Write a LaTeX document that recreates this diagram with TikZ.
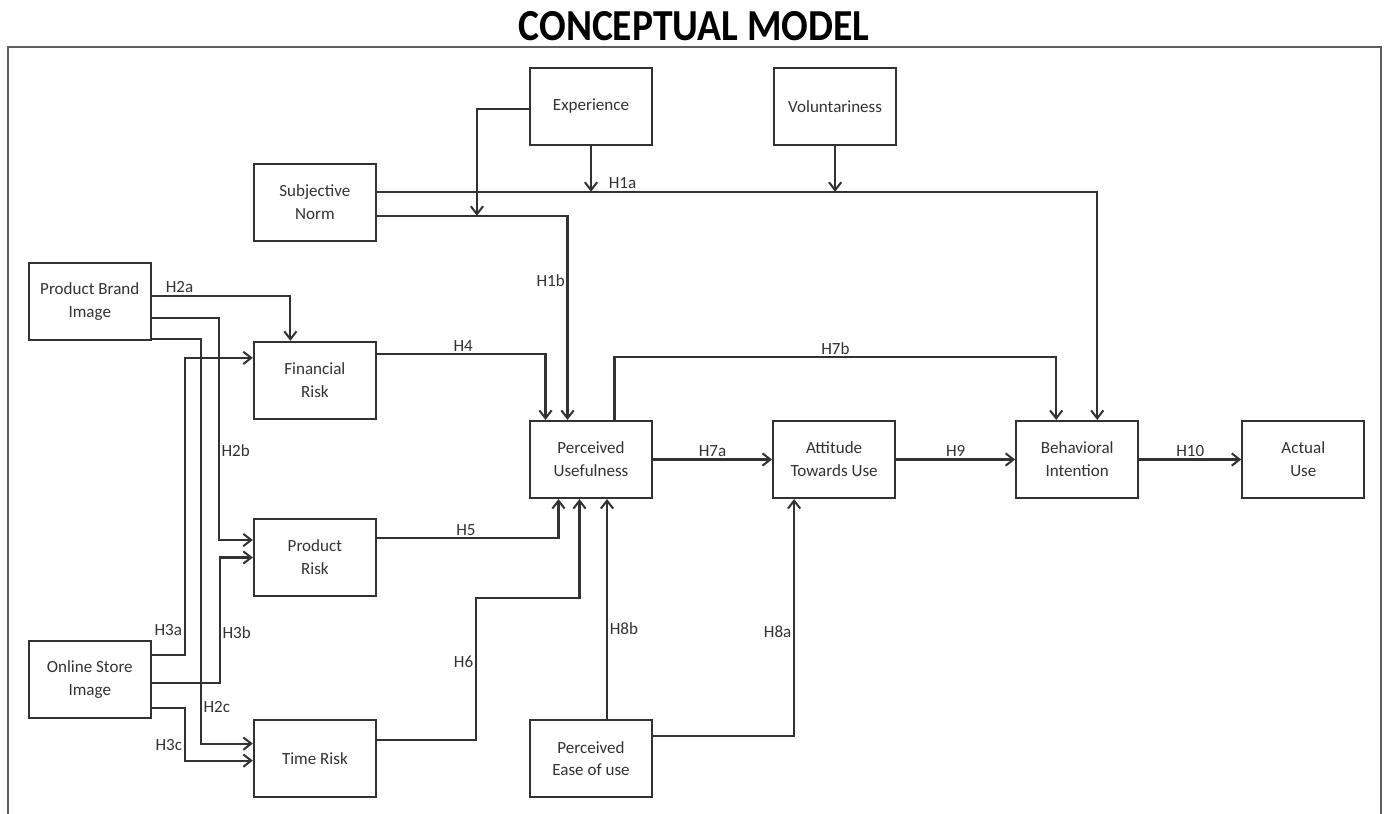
\documentclass[tikz,border=0pt]{standalone}
\usepackage{fontspec}
\setmainfont{Carlito}
\usepackage{tikz}
\usetikzlibrary{positioning}
\usetikzlibrary{arrows.meta}
\usetikzlibrary{calc}
\definecolor{linegray}{RGB}{50,50,50}
\definecolor{framegray}{RGB}{95,95,95}
\tikzset{box node/.style={rectangle,draw=linegray,line width=1.2pt,minimum width=2.44cm,minimum height=1.54cm,inner sep=0pt,align=center,font=\fontsize{9.7}{13}\selectfont},
hyp/.style={inner sep=1pt,font=\fontsize{9.7}{13}\selectfont},}

\begin{document}
\begin{tikzpicture}[->, >={Straight Barb[length=4.5pt,width=7pt]}, color=linegray, line width=1.15pt, node distance=1cm]
		\useasboundingbox (0,0) rectangle (27.76,-16.28);
		\draw[-, line width=1.4pt, framegray] (0.16,-16.4) |- (27.62,-0.94) -- (27.62,-16.4);
		\node[font=\bfseries\fontsize{22.5}{27}\selectfont, text=black] (title) at (13.88,-0.52) {\scalebox{1}[1.12]{CONCEPTUAL MODEL}};

		\node[box node] (pu) at (11.82,-9.19) {Perceived\\Usefulness};
	    \node[box node] (atu) [right = 2.38cm of pu] {Attitude\\Towards Use};
	    \node[box node] (bi) [right = 2.38cm of atu] {Behavioral\\Intention};
	    \node[box node] (au) [right = 2.04cm of bi] {Actual\\Use};
	    \node[box node] (peu) [below = 4.40cm of pu] {Perceived\\Ease of use};
	    \node[box node] (exp) [above = 5.48cm of pu] {Experience};
	    \node[box node] (vol) [right = 2.40cm of exp] {Voluntariness};
	    \node[box node] (fr) [above left = 0cm and 3.04cm of pu] {Financial\\Risk};
	    \node[box node] (pr) [below = 1.96cm of fr] {Product\\Risk};
	    \node[box node] (tr) [below = 2.44cm of pr] {Time Risk};
	    \node[box node] (sn) [above = 1.98cm of fr] {Subjective\\Norm};
	    \node[box node] (pbi) [above left = 0cm and 2.02cm of fr] {Product Brand\\Image};
	    \node[box node] (osi) [above left = 0cm and 2.02cm of tr] {Online Store\\Image};

	    % subjective norm and its moderators
	    \coordinate (snA) at ([yshift=0.21cm]sn.east);
	    \coordinate (snB) at ([yshift=-0.27cm]sn.east);
	    \coordinate (mx) at ([xshift=2.0cm]snB);
	    \draw ([yshift=-0.05cm]exp.west) -| (mx);
	    \draw (exp.south) -- (exp.south |- snA) node[hyp, above right, xshift=0.3cm] {H1a};
	    \draw (vol.south) -- (vol.south |- snA);
	    \draw (snA) -| ([xshift=0.40cm]bi.north);
	    \draw (snB) -| node[hyp, pos=0.66, left] {H1b} ([xshift=-0.47cm]pu.north);

	    % image -> risk
	    \draw ([yshift=0.11cm]pbi.east) -| node[hyp, pos=0.1, above] {H2a} ([xshift=-0.49cm]fr.north);
	    \draw ([yshift=-0.33cm]pbi.east) -- ++(1.34cm,0) |- node[hyp, pos=0.3, right] {H2b} ([yshift=0.35cm]pr.west);
	    \draw ([yshift=-0.75cm]pbi.east) -- ++(0.98cm,0) |- node[hyp, pos=0.455, right] {H2c} ([yshift=0.30cm]tr.west);
	    \draw ([yshift=0.49cm]osi.east) -- node[hyp, above=0.34cm] {H3a} ++(0.66cm,0) |- ([yshift=0.45cm]fr.west);
	    \draw ([yshift=-0.07cm]osi.east) -- ++(1.36cm,0) |- node[hyp, pos=0.2, right] {H3b} (pr.west);
	    \draw ([yshift=-0.57cm]osi.east) -- ++(0.66cm,0) |- node[hyp, pos=0.35, left] {H3c} ([yshift=-0.04cm]tr.west);

	    % risk -> usefulness
	    \draw ([yshift=0.53cm]fr.east) -| node[hyp, pos=0.256, above] {H4} ([xshift=-0.91cm]pu.north);
	    \draw ([yshift=0.39cm]pr.east) -| node[hyp, pos=0.245, above] {H5} ([xshift=-0.65cm]pu.south);
	    \draw ([yshift=0.38cm]tr.east) -- ++(1.98cm,0) -- node[hyp, pos=0.55, left] {H6} ++(0,2.84cm) -| ([xshift=-0.23cm]pu.south);

	    % ease of use
	    \draw ([xshift=0.32cm]peu.north) -- node[hyp, pos=0.41, right] {H8b} ([xshift=0.32cm]pu.south);
	    \draw ([yshift=0.45cm]peu.east) -| node[hyp, pos=0.72, left] {H8a} ([xshift=-0.80cm]atu.south);

	    % main chain
	    \draw ([xshift=0.47cm]pu.north) -- ++(0,1.26cm) -| node[hyp, pos=0.25, above] {H7b} ([xshift=-0.42cm]bi.north);
	    \path[draw]
	    (pu) edge node[hyp, above] {H7a} (atu)
	    (atu) edge node[hyp, above] {H9} (bi)
	    (bi) edge node[hyp, above] {H10} (au);
	\end{tikzpicture}
\end{document}
